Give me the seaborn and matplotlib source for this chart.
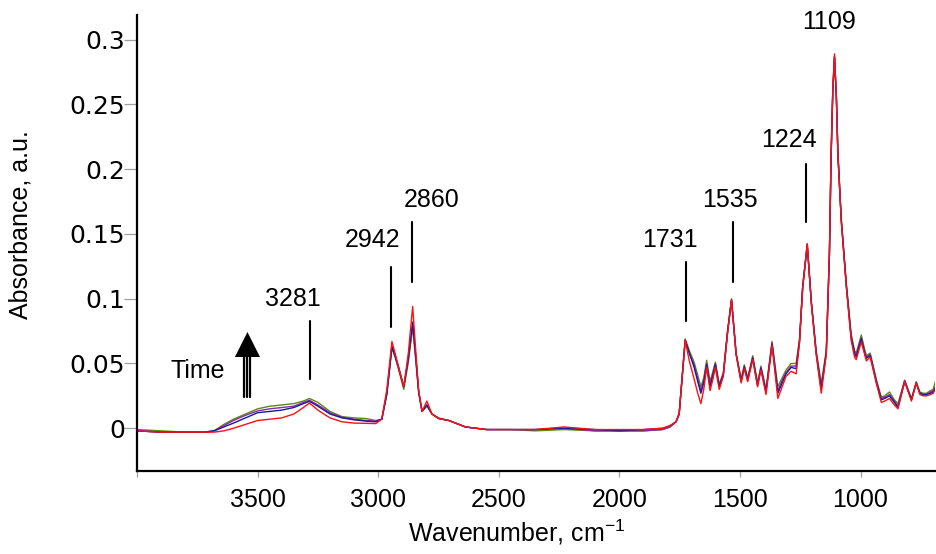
import numpy as np
import pandas as pd
import matplotlib
matplotlib.use("Agg")
import matplotlib.pyplot as plt
import seaborn as sns

# ---------------- data ----------------
wavenumber = [
    4000, 3900, 3800, 3720, 3680, 3640, 3600, 3550, 3500, 3450,
    3400, 3350, 3310, 3285, 3250, 3200, 3150, 3100, 3050, 3010,
    2985, 2964, 2943, 2930, 2915, 2894, 2875, 2857, 2845, 2832,
    2818, 2798, 2777, 2749, 2707, 2638, 2550, 2450, 2350, 2230,
    2100, 2000, 1900, 1820, 1790, 1765, 1752, 1745, 1727, 1710,
    1690, 1675, 1662, 1650, 1638, 1624, 1612, 1602, 1586, 1569,
    1551, 1535, 1516, 1495, 1482, 1468, 1447, 1427, 1413, 1392,
    1367, 1343, 1325, 1309, 1288, 1267, 1253, 1240, 1221, 1204,
    1184, 1163, 1142, 1129, 1122, 1115, 1108, 1100, 1094, 1080,
    1059, 1039, 1025, 1018, 997, 983, 976, 960, 935, 914,
    900, 880, 860, 845, 817, 789, 769, 754, 740, 727,
    710, 699, 690,
]

red = [
    -0.002, -0.003, -0.003, -0.003, -0.003, -0.002, 0.000, 0.003, 0.006, 0.007,
    0.008, 0.011, 0.016, 0.0195, 0.014, 0.008, 0.005, 0.004, 0.0038, 0.0036,
    0.007, 0.030, 0.067, 0.058, 0.047, 0.032, 0.058, 0.094, 0.062, 0.029,
    0.013, 0.021, 0.011, 0.0075, 0.006, 0.001, -0.001, -0.001, -0.001, 0.001,
    -0.001, -0.001, -0.001, 0.000, 0.002, 0.005, 0.011, 0.027, 0.068, 0.052,
    0.038, 0.027, 0.019, 0.030, 0.047, 0.029, 0.038, 0.047, 0.030, 0.040,
    0.074, 0.099, 0.057, 0.035, 0.046, 0.036, 0.053, 0.032, 0.045, 0.026,
    0.064, 0.023, 0.032, 0.040, 0.044, 0.042, 0.066, 0.108, 0.1425, 0.096,
    0.057, 0.027, 0.057, 0.135, 0.212, 0.262, 0.289, 0.255, 0.212, 0.160,
    0.109, 0.068, 0.055, 0.053, 0.0666, 0.057, 0.052, 0.055, 0.035, 0.020,
    0.021, 0.023, 0.018, 0.015, 0.036, 0.021, 0.035, 0.026, 0.025, 0.025,
    0.026, 0.027, 0.030,
]

blue = [
    -0.002, -0.003, -0.003, -0.003, -0.002, 0.001, 0.004, 0.008, 0.012, 0.013,
    0.014, 0.016, 0.019, 0.0208, 0.017, 0.011, 0.008, 0.0065, 0.0055, 0.005,
    0.007, 0.027, 0.063, 0.056, 0.047, 0.032, 0.054, 0.082, 0.057, 0.028,
    0.013, 0.018, 0.011, 0.0075, 0.006, 0.001, -0.001, -0.001, -0.001, 0.000,
    -0.001, -0.002, -0.001, 0.000, 0.002, 0.005, 0.011, 0.027, 0.068, 0.058,
    0.047, 0.036, 0.027, 0.035, 0.049, 0.032, 0.041, 0.049, 0.032, 0.041,
    0.075, 0.099, 0.057, 0.036, 0.047, 0.037, 0.054, 0.033, 0.046, 0.028,
    0.065, 0.027, 0.035, 0.042, 0.047, 0.046, 0.067, 0.109, 0.142, 0.097,
    0.058, 0.030, 0.058, 0.135, 0.211, 0.261, 0.287, 0.254, 0.212, 0.161,
    0.110, 0.070, 0.058, 0.055, 0.069, 0.058, 0.054, 0.056, 0.036, 0.022,
    0.023, 0.025, 0.020, 0.016, 0.036, 0.022, 0.035, 0.027, 0.026, 0.026,
    0.027, 0.028, 0.031,
]

purple = [
    -0.002, -0.003, -0.003, -0.003, -0.002, 0.002, 0.006, 0.010, 0.0134, 0.015,
    0.016, 0.017, 0.020, 0.0216, 0.018, 0.012, 0.0085, 0.007, 0.006, 0.0055,
    0.007, 0.027, 0.063, 0.056, 0.046, 0.032, 0.053, 0.080, 0.056, 0.028,
    0.013, 0.018, 0.011, 0.0075, 0.006, 0.001, -0.001, -0.001, -0.001, 0.000,
    -0.002, -0.002, -0.002, -0.001, 0.001, 0.005, 0.011, 0.027, 0.068, 0.058,
    0.049, 0.038, 0.029, 0.037, 0.050, 0.034, 0.042, 0.050, 0.033, 0.042,
    0.075, 0.099, 0.058, 0.037, 0.048, 0.038, 0.055, 0.034, 0.047, 0.029,
    0.066, 0.029, 0.037, 0.043, 0.048, 0.048, 0.068, 0.109, 0.142, 0.097,
    0.059, 0.032, 0.059, 0.135, 0.211, 0.261, 0.287, 0.254, 0.212, 0.161,
    0.111, 0.071, 0.059, 0.056, 0.070, 0.059, 0.055, 0.057, 0.037, 0.023,
    0.024, 0.026, 0.021, 0.017, 0.037, 0.022, 0.035, 0.027, 0.026, 0.026,
    0.028, 0.029, 0.032,
]

green = [
    -0.001, -0.002, -0.003, -0.003, -0.002, 0.003, 0.007, 0.011, 0.015, 0.017,
    0.018, 0.019, 0.021, 0.023, 0.020, 0.013, 0.009, 0.008, 0.0075, 0.006,
    0.007, 0.026, 0.062, 0.055, 0.045, 0.030, 0.051, 0.078, 0.054, 0.027,
    0.013, 0.017, 0.011, 0.008, 0.006, 0.001, -0.001, -0.001, -0.002, -0.001,
    -0.002, -0.002, -0.002, -0.001, 0.001, 0.005, 0.012, 0.028, 0.069, 0.060,
    0.051, 0.041, 0.032, 0.039, 0.0525, 0.036, 0.044, 0.051, 0.034, 0.043,
    0.076, 0.100, 0.058, 0.038, 0.049, 0.039, 0.056, 0.035, 0.048, 0.030,
    0.067, 0.032, 0.039, 0.045, 0.050, 0.050, 0.069, 0.109, 0.141, 0.098,
    0.060, 0.0345, 0.060, 0.135, 0.210, 0.260, 0.286, 0.254, 0.213, 0.162,
    0.112, 0.073, 0.060, 0.058, 0.072, 0.061, 0.056, 0.058, 0.038, 0.024,
    0.025, 0.028, 0.022, 0.019, 0.037, 0.023, 0.036, 0.028, 0.027, 0.027,
    0.029, 0.030, 0.036,
]

series_names = ["green", "purple", "blue", "red"]
series_colors = ["#5a8a14", "#8a2aa8", "#1a1a9a", "#ff1010"]

x_ticks = [4000, 3500, 3000, 2500, 2000, 1500, 1000]
x_tick_labels = ["", "3500", "3000", "2500", "2000", "1500", "1000"]
y_ticks = [0, 0.05, 0.1, 0.15, 0.2, 0.25, 0.3]
y_tick_labels = ["0", "0.05", "0.1", "0.15", "0.2", "0.25", "0.3"]

# peak annotations: label, text position (wn, abs), line x, line y0, y1
peak_labels = ["3281", "2942", "2860", "1731", "1535", "1224", "1109"]
peak_text_x = [3353, 3025, 2777, 1790, 1541, 1295, 1131]
peak_text_y = [0.0995, 0.145, 0.176, 0.145, 0.176, 0.2222, 0.3135]
peak_line_x = [3282, 2947, 2860, 1724, 1528, 1226, None]
peak_line_y0 = [0.0378, 0.0782, 0.1129, 0.0828, 0.1129, 0.1592, None]
peak_line_y1 = [0.0826, 0.1245, 0.1592, 0.1283, 0.1592, 0.2042, None]

# ---------------- build frame ----------------
vals = {"green": green, "purple": purple, "blue": blue, "red": red}
frames = []
for name in series_names:
    frames.append(pd.DataFrame({"wn": wavenumber, "abs": vals[name], "series": name}))
df = pd.concat(frames, ignore_index=True)

# ---------------- plot ----------------
sns.set_style("ticks")
plt.rcParams["font.family"] = ["Liberation Sans", "DejaVu Sans"]
plt.rcParams["mathtext.fontset"] = "custom"
plt.rcParams["mathtext.rm"] = "Liberation Sans"
plt.rcParams["mathtext.it"] = "Liberation Sans"
plt.rcParams["text.color"] = "black"
plt.rcParams["axes.labelcolor"] = "black"

fig = plt.figure(figsize=(9.37, 5.54), dpi=100)
ax = fig.add_axes([0.1462, 0.1498, 0.852, 0.8231])

sns.lineplot(data=df, x="wn", y="abs", hue="series", hue_order=series_names,
             palette=dict(zip(series_names, series_colors)), sort=False,
             estimator=None, linewidth=1.0, legend=False, ax=ax)

ax.set_xlim(4000, 690)
ax.set_ylim(-0.033, 0.319)

ax.set_xticks(x_ticks)
ax.set_xticklabels(x_tick_labels)
ax.set_yticks(y_ticks)
ax.set_yticklabels(y_tick_labels, fontfamily="DejaVu Sans")

ax.tick_params(axis="y", length=9.5, width=0.9, color="#a0a0a0", pad=-1,
               labelsize=18, labelcolor="black")
ax.tick_params(axis="x", length=4, width=0.9, color="#a0a0a0", pad=8,
               labelsize=18, labelcolor="black")

for s in ["top", "right"]:
    ax.spines[s].set_visible(False)
for s in ["left", "bottom"]:
    ax.spines[s].set_linewidth(1.6)
    ax.spines[s].set_color("black")

ax.set_xlabel("Wavenumber, cm$^{-1}$", fontsize=18)
ax.set_ylabel("Absorbance, a.u.", fontsize=18)
ax.xaxis.set_label_coords(0.475, -0.102)
ax.yaxis.set_label_coords(-0.131, 0.54)

# peak annotations
for lab, tx, ty, lx, ly0, ly1 in zip(peak_labels, peak_text_x, peak_text_y,
                                      peak_line_x, peak_line_y0, peak_line_y1):
    ax.text(tx, ty, lab, fontsize=18, ha="center", va="center", color="black")
    if lx is not None:
        ax.plot([lx, lx], [ly0, ly1], color="black", linewidth=1.5)

# "Time" arrow
ax.text(3748, 0.0444, "Time", fontsize=18, ha="center", va="center", color="black")
for sx in [3556, 3543, 3530]:
    ax.plot([sx, sx], [0.0242, 0.0555], color="black", linewidth=1.6)
ax.fill([3594, 3490, 3542], [0.055, 0.055, 0.0743], color="black", lw=0)

fig.savefig("out.png", dpi=100)
